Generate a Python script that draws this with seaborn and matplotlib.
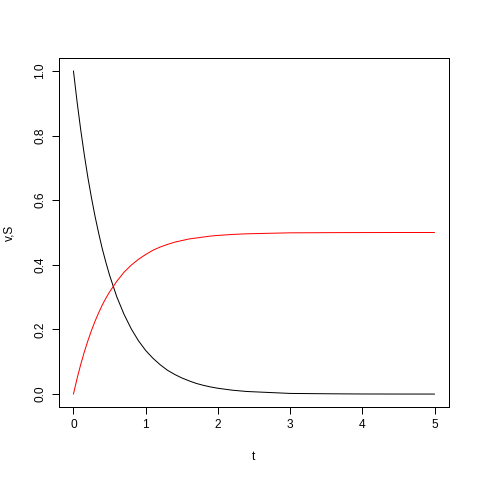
import matplotlib
matplotlib.use("Agg")
import matplotlib.pyplot as plt
import seaborn as sns
import pandas as pd

# values
t = [0.0, 0.05, 0.1, 0.15, 0.2, 0.25, 0.3, 0.35, 0.4, 0.45, 0.5, 0.6, 0.7, 0.8, 0.9,
     1.0, 1.1, 1.2, 1.3, 1.4, 1.5, 1.6, 1.7, 1.8, 1.9,
     2.0, 2.2, 2.4, 2.6, 2.8, 3.0, 3.25, 3.5, 3.75, 4.0,
     4.25, 4.5, 4.75, 5.0]
v = [1.000, 0.905, 0.819, 0.741, 0.670, 0.607, 0.549, 0.497, 0.449, 0.407, 0.368,
     0.301, 0.247, 0.202, 0.165,
     0.135, 0.111, 0.091, 0.074, 0.061, 0.050, 0.041, 0.033, 0.027, 0.022,
     0.018, 0.012, 0.008, 0.006, 0.004, 0.002, 0.0015, 0.001, 0.0006, 0.0003,
     0.0002, 0.0001, 0.0001, 0.0000]
S = [0.000, 0.048, 0.091, 0.130, 0.165, 0.197, 0.226, 0.252, 0.276, 0.297, 0.316,
     0.349, 0.377, 0.399, 0.417,
     0.432, 0.445, 0.455, 0.463, 0.470, 0.475, 0.480, 0.483, 0.486, 0.489,
     0.491, 0.494, 0.496, 0.497, 0.498, 0.499, 0.4992, 0.4995, 0.4997, 0.4998,
     0.4999, 0.5, 0.5, 0.5]

xticks = [0, 1, 2, 3, 4, 5]
yticks = [0.0, 0.2, 0.4, 0.6, 0.8, 1.0]

df = pd.DataFrame({"t": t, "v": v, "S": S})

sns.set_style("ticks")
plt.rcParams["font.family"] = ["Liberation Sans", "DejaVu Sans"]
plt.rcParams["text.color"] = "black"
plt.rcParams["axes.labelcolor"] = "black"
plt.rcParams["xtick.color"] = "black"
plt.rcParams["ytick.color"] = "black"

fig = plt.figure(figsize=(4.8, 4.8), dpi=100)
ax = fig.add_axes([59 / 480, 73 / 480, (449 - 59) / 480, (407 - 58) / 480])

sns.lineplot(data=df, x="t", y="v", color="black", linewidth=0.72, ax=ax)
sns.lineplot(data=df, x="t", y="S", color="#ff0000", linewidth=0.72, ax=ax)

ax.set_xlim(-0.2, 5.2)
ax.set_ylim(-0.04, 1.04)
ax.set_xticks(xticks)
ax.set_xticklabels([str(x) for x in xticks])
ax.set_yticks(yticks)
ax.set_yticklabels([f"{y:.1f}" for y in yticks], rotation=90, va="center")
ax.tick_params(direction="out", length=5, width=0.72, labelsize=8.6, pad=4,
               color="black", labelcolor="black")
for sp in ax.spines.values():
    sp.set_visible(True)
    sp.set_linewidth(0.72)
    sp.set_color("black")

ax.set_xlabel("t", fontsize=8.6, labelpad=14, color="black")
ax.set_ylabel("v,S", fontsize=8.6, labelpad=14, color="black")

fig.savefig("out.png", dpi=100)
